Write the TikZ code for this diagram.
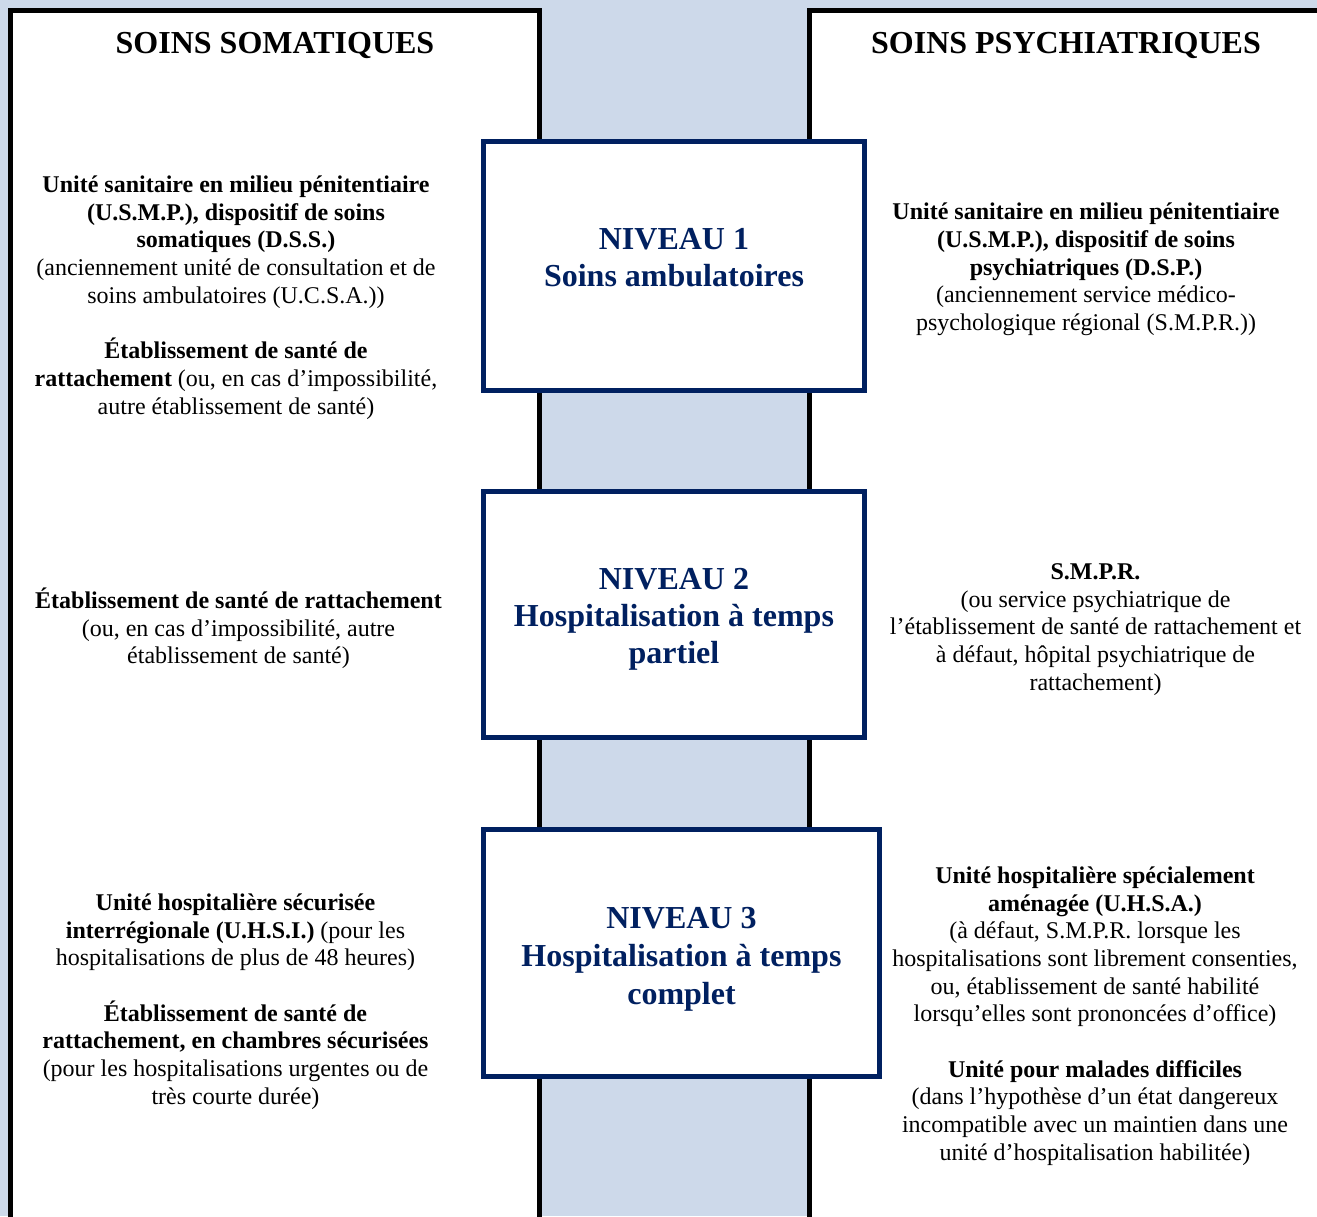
\documentclass[tikz,border=0pt]{standalone}
\usepackage{fontspec}
\setmainfont{Liberation Serif}
\definecolor{bandblue}{RGB}{205,217,234}
\definecolor{navy}{RGB}{0,32,96}

\begin{document}
\begin{tikzpicture}[x=0.5pt, y=-0.5pt,
    heading/.style={font=\fontsize{16}{18.4}\selectfont\bfseries},
    level/.style={draw=navy, line width=2.5pt, fill=white},
    levtext/.style={text=navy, align=center, inner sep=0pt, font=\fontsize{16}{18.5}\selectfont\bfseries},
    side/.style={align=center, inner sep=0pt, font=\fontsize{12}{13.85}\selectfont}]
    \useasboundingbox (0,0) rectangle (1317,1216);
    \clip (0,0) rectangle (1317,1216);
    \fill [bandblue] (0,0) rectangle (1317,1216);

    % the two columns
    \fill [white] (10.5,10.5) rectangle (539.5,1260);
    \fill [white] (809.5,10.5) rectangle (1360,1260);
    \draw [line width=2.5pt] (10.5,1260) -- (10.5,10.5) -- (539.5,10.5) -- (539.5,1260);
    \draw [line width=2.5pt] (1360,10.5) -- (809.5,10.5) -- (809.5,1260);
    \node [heading] (somTitle) at (275,45) {SOINS SOMATIQUES};
    \node [heading] (psyTitle) at (1066,45) {SOINS PSYCHIATRIQUES};

    % levels
    \node [level, minimum width=190.5pt, minimum height=124.5pt] (lev1) at (674,266) {};
    \node [level, minimum width=190.5pt, minimum height=123pt] (lev2) at (674,614.5) {};
    \node [level, minimum width=198pt, minimum height=123.5pt] (lev3) at (681.5,953) {};
    \node [levtext] (lev1txt) at (674,257.5) {NIVEAU 1\\Soins ambulatoires};
    \node [levtext] (lev2txt) at (674,619.5) {NIVEAU 2\\Hospitalisation à temps\\partiel};
    \node [levtext, font=\fontsize{16}{19}\selectfont\bfseries] (lev3txt) at (681.5,959.5) {NIVEAU 3\\Hospitalisation à temps\\complet};

    % somatic side
    \node [side] (som1) at (236,297.5) {\textbf{Unité sanitaire en milieu pénitentiaire}\\
        \textbf{(U.S.M.P.), dispositif de soins}\\
        \textbf{somatiques (D.S.S.)}\\
        (anciennement unité de consultation et de\\
        soins ambulatoires (U.C.S.A.))\\[13.85pt]
        \textbf{Établissement de santé de}\\
        \textbf{rattachement} (ou, en cas d’impossibilité,\\
        autre établissement de santé)};
    \node [side] (som2) at (238.5,628.5) {\textbf{Établissement de santé de rattachement}\\
        (ou, en cas d’impossibilité, autre\\
        établissement de santé)};
    \node [side] (som3) at (235.5,1001.5) {\textbf{Unité hospitalière sécurisée}\\
        \textbf{interrégionale (U.H.S.I.)} (pour les\\
        hospitalisations de plus de 48 heures)\\[13.85pt]
        \textbf{Établissement de santé de}\\
        \textbf{rattachement, en chambres sécurisées}\\
        (pour les hospitalisations urgentes ou de\\
        très courte durée)};

    % psychiatric side
    \node [side] (psy1) at (1086,269.5) {\textbf{Unité sanitaire en milieu pénitentiaire}\\
        \textbf{(U.S.M.P.), dispositif de soins}\\
        \textbf{psychiatriques (D.S.P.)}\\
        (anciennement service médico-\\
        psychologique régional (S.M.P.R.))};
    \node [side] (psy2) at (1095.5,629.5) {\textbf{S.M.P.R.}\\
        (ou service psychiatrique de\\
        l’établissement de santé de rattachement et\\
        à défaut, hôpital psychiatrique de\\
        rattachement)};
    \node [side] (psy3) at (1095,1016) {\textbf{Unité hospitalière spécialement}\\
        \textbf{aménagée (U.H.S.A.)}\\
        (à défaut, S.M.P.R. lorsque les\\
        hospitalisations sont librement consenties,\\
        ou, établissement de santé habilité\\
        lorsqu’elles sont prononcées d’office)\\[13.85pt]
        \textbf{Unité pour malades difficiles}\\
        (dans l’hypothèse d’un état dangereux\\
        incompatible avec un maintien dans une\\
        unité d’hospitalisation habilitée)};
\end{tikzpicture}
\end{document}
